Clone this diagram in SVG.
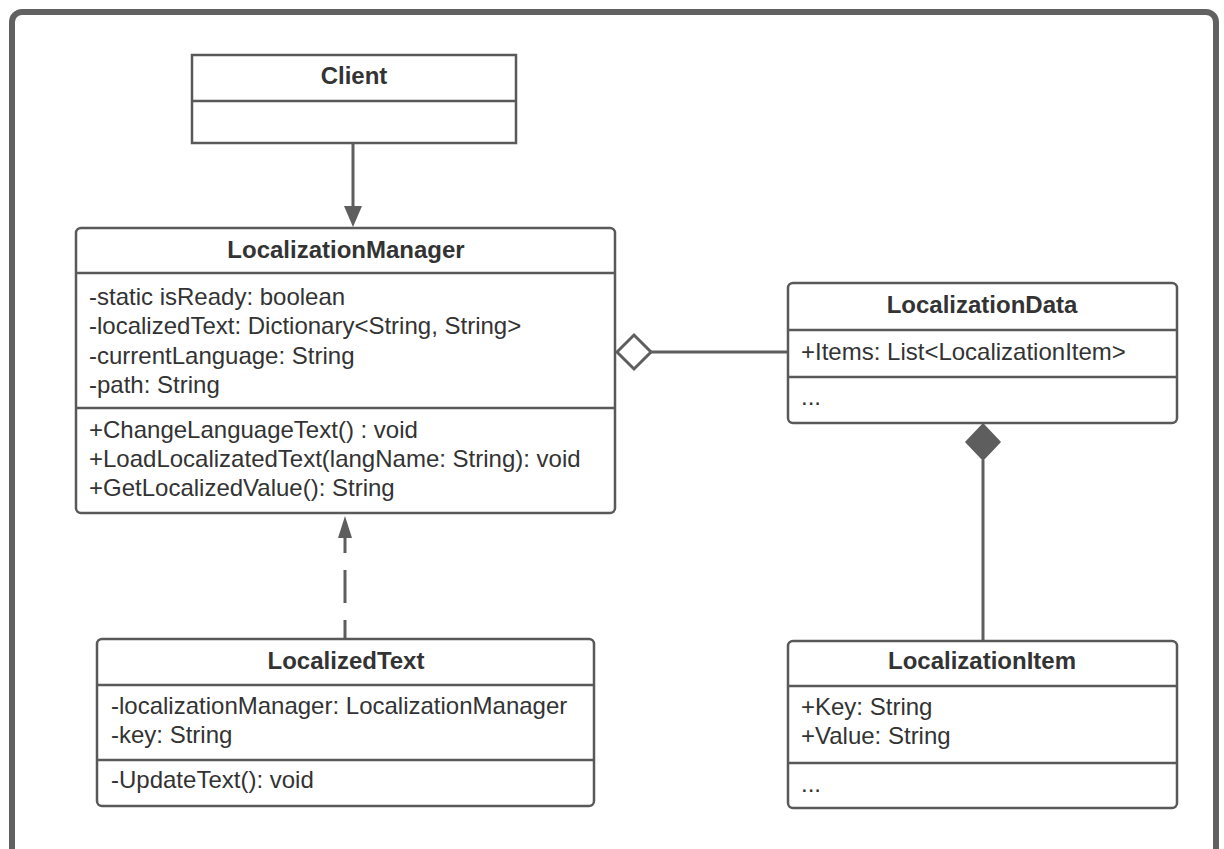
<svg xmlns="http://www.w3.org/2000/svg" width="1224" height="849" viewBox="0 0 1224 849">
  <style>
    .box { fill: #ffffff; stroke: #595959; stroke-width: 2.5; }
    .div { stroke: #595959; stroke-width: 2.5; }
    .title { font-family: "Liberation Sans", Arial, sans-serif; font-size: 24px; font-weight: bold; fill: #333333; text-anchor: middle; }
    .txt { font-family: "Liberation Sans", Arial, sans-serif; font-size: 24px; fill: #333333; }
    .conn { fill: none; stroke: #5e5e5e; stroke-width: 3; }
  </style>

  <rect width="1224" height="849" fill="#ffffff"/>
  <!-- outer frame -->
  <rect x="12" y="12" width="1204" height="900" rx="10" ry="10" fill="none" stroke="#616161" stroke-width="6"/>

  <!-- connectors -->
  <g id="connectors">
    <!-- Client -> LocalizationManager -->
    <line class="conn" x1="353" y1="143" x2="353" y2="208"/>
    <path d="M344,206 L362,206 L353,227 Z" fill="#5e5e5e"/>
    <!-- LocalizedText -> LocalizationManager (dashed) -->
    <line class="conn" x1="345" y1="639" x2="345" y2="535" stroke-dasharray="33 17" stroke-dashoffset="14"/>
    <path d="M338,538 L352,538 L345,516 Z" fill="#5e5e5e"/>
    <!-- aggregation: LocalizationData -> LocalizationManager -->
    <line class="conn" x1="651" y1="352" x2="788" y2="352"/>
    <path d="M617,352 L634,335 L651,352 L634,369 Z" fill="#ffffff" stroke="#5e5e5e" stroke-width="3"/>
    <!-- composition: LocalizationItem -> LocalizationData -->
    <line class="conn" x1="983" y1="460" x2="983" y2="641"/>
    <path d="M983,424 L1000,442 L983,460 L966,442 Z" fill="#5e5e5e" stroke="#5e5e5e" stroke-width="1.5"/>
  </g>

  <!-- Client -->
  <g id="client">
    <rect class="box" x="192" y="55" width="324" height="88"/>
    <line class="div" x1="192" y1="101" x2="516" y2="101"/>
    <text class="title" x="354" y="84">Client</text>
  </g>

  <!-- LocalizationManager -->
  <g id="localization-manager">
    <rect class="box" x="76" y="228" width="539" height="285" rx="5" ry="5"/>
    <line class="div" x1="76" y1="273" x2="615" y2="273"/>
    <line class="div" x1="76" y1="408" x2="615" y2="408"/>
    <text class="title" x="346" y="258">LocalizationManager</text>
    <text class="txt" x="89" y="305">-static isReady: boolean</text>
    <text class="txt" x="89" y="334">-localizedText: Dictionary&lt;String, String&gt;</text>
    <text class="txt" x="89" y="363.5">-currentLanguage: String</text>
    <text class="txt" x="89" y="393">-path: String</text>
    <text class="txt" x="89" y="437.5">+ChangeLanguageText() : void</text>
    <text class="txt" x="89" y="467">+LoadLocalizatedText(langName: String): void</text>
    <text class="txt" x="89" y="496">+GetLocalizedValue(): String</text>
  </g>

  <!-- LocalizationData -->
  <g id="localization-data">
    <rect class="box" x="788" y="283" width="389" height="140" rx="5" ry="5"/>
    <line class="div" x1="788" y1="330" x2="1177" y2="330"/>
    <line class="div" x1="788" y1="377" x2="1177" y2="377"/>
    <text class="title" x="982" y="313">LocalizationData</text>
    <text class="txt" x="801" y="360">+Items: List&lt;LocalizationItem&gt;</text>
    <text class="txt" x="801" y="405">...</text>
  </g>

  <!-- LocalizedText -->
  <g id="localized-text">
    <rect class="box" x="97" y="639" width="497" height="167" rx="5" ry="5"/>
    <line class="div" x1="97" y1="685" x2="594" y2="685"/>
    <line class="div" x1="97" y1="760" x2="594" y2="760"/>
    <text class="title" x="346" y="669">LocalizedText</text>
    <text class="txt" x="111" y="714">-localizationManager: LocalizationManager</text>
    <text class="txt" x="111" y="743">-key: String</text>
    <text class="txt" x="111" y="788">-UpdateText(): void</text>
  </g>

  <!-- LocalizationItem -->
  <g id="localization-item">
    <rect class="box" x="788" y="641" width="389" height="167" rx="5" ry="5"/>
    <line class="div" x1="788" y1="686" x2="1177" y2="686"/>
    <line class="div" x1="788" y1="763" x2="1177" y2="763"/>
    <text class="title" x="982" y="669">LocalizationItem</text>
    <text class="txt" x="801" y="715">+Key: String</text>
    <text class="txt" x="801" y="744">+Value: String</text>
    <text class="txt" x="801" y="792">...</text>
  </g>
</svg>
